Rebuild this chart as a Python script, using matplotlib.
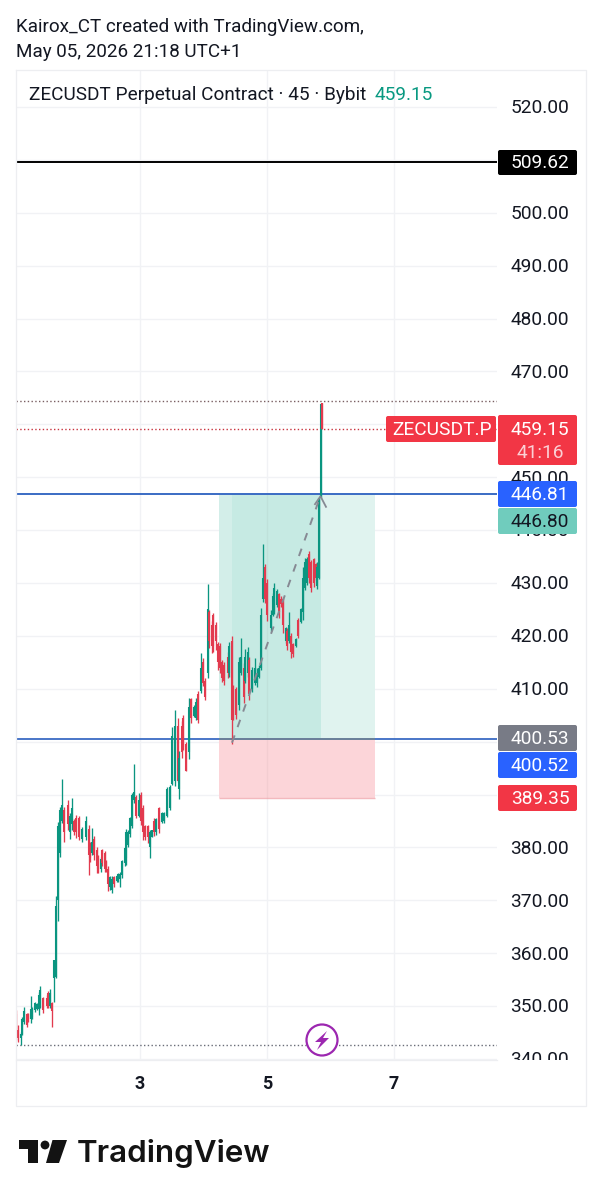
import matplotlib
matplotlib.use("Agg")
import matplotlib.pyplot as plt
from matplotlib.patches import FancyBboxPatch, Circle, Polygon
from matplotlib.transforms import blended_transform_factory, offset_copy

plt.rcParams['font.family'] = ['Roboto', 'DejaVu Sans']

bars = [0,1,2.3,3,4.2,5.3,6.2,7.3,8,9.3,
        10.3,11.3,12,13.7,15.3,16.2,17.2,18,19.2,19.8,
        21,22,23.2,24,25.8,27,28,29.2,30.2,31.5,
        33,35,36.3,37,38,38.8,40.3,41,42.5,43,
        44.3,45,46.2,47,48,49,50.3,51,52.2,53,
        54.3,55,55.8,57,58,58.8,60,61.3,62.3,63.5,
        64.5,65.8,67,67.8,69,70,71.5,73,74,75.3,
        77,77.8,79.5,80.8,81.5,83.2,83.7,85,86.6,87.6,
        89,89.8,91.2,92.5,93.3,94.6,95.8,96.6,98.2,98.6,
        99.8,100.8,102,102.8,104.2,105.8,106.6,107.8,108.5,110,
        111.6,112.5,113.8,114.5,115.8,116.5,117.8,119.6,120.3,121.3,
        122.5,123.6,124.6,125.5,127.3,128.3,129.2,130.5,131.3,132.5,
        133.3,135,135.6,136.6,137.5,138.6,139.8,141.2,142.6,143.5,
        144.6,145.5,146.5,147.5,149,149.8,150.6,151.3,152.5,153]
highs = [349.2,346.4,345.1,347.9,349.8,348.7,348.7,351.9,349.8,350.8,
         350.6,352.6,353.8,351.7,352.1,352.8,353.2,350.8,358.7,370.8,
         384.8,387.6,392.9,387.6,388.9,386.5,389.3,385.3,386.1,385.9,
         383.8,385.9,384.2,381,383.6,382.1,380,378.5,378.2,379.7,
         379.3,377.6,376.5,374.6,374.6,374.6,374.8,375.1,375.3,377.6,
         380,383.5,383.3,385.7,390.3,395.7,389.9,390.3,390.4,388,
         384.2,384.2,383.3,383.3,385.5,385.5,387.6,386.7,386.7,391.4,
         391.8,402.7,405.9,404.4,398.3,403.9,405,399.9,408.2,408.2,
         406.9,408.2,409.5,416.7,415.8,412,429.8,424.8,422.9,424.4,
         422.6,418.8,418.6,415.4,415,416.9,418.8,419.9,410.7,410.3,
         416,419.6,414.8,417.6,417.9,416,414.1,415.8,413.9,414.4,
         425.2,437.3,433.6,430.7,424.8,428.1,430,428.9,428.1,427.6,
         427.2,421.6,421.4,424.5,420.5,418.6,419.6,423.3,425.2,433,
         434.7,435,436.1,434.3,434.7,433.7,433.9,446,464,464]
lows = [343.6,343.2,342.6,344.5,346.6,346,347,346.8,347.5,348.9,
        349.2,348.3,349.6,348.7,349.6,349.6,349.6,346,350.8,355.3,
        366,378.2,384.6,381,383.3,381.6,383.3,382.3,381.8,381.4,
        381,381.4,374.8,377.2,378.5,377.6,375.1,375.1,375.3,376.5,
        375.3,375.3,371.7,371.9,371.4,372.5,373.4,373.4,372.5,374.2,
        376.5,376.6,380,381.9,383.6,388.4,385.5,385.7,384.2,381.4,
        381.4,380.8,378,381.9,382.1,382.3,382.7,384.6,384.6,385.7,
        387,391.8,391.6,392.3,389.1,397,398.4,394.5,396.8,403.5,
        404.6,404.1,403.5,409.2,410.5,407.8,412,417.7,416.7,416.9,
        417.3,413.5,413,411.2,410.7,412,412.2,399.6,404.1,404.3,
        406,412.6,407.3,411,412.2,407.8,409.4,410.7,410.3,412,
        413.5,426.4,426.2,422.8,421,423.8,424.2,425.4,423.4,425.4,
        420.5,418.6,417.3,418.6,415.8,416,417.9,419.6,422.5,423,
        428.7,429.7,430,428.3,429.3,430.5,428.8,430.7,446,459.2]
opens = [348.5,345.5,344,344.8,347,348.5,348.5,347.5,348,349.2,
         349.5,349.5,350,351.5,351.5,352.5,350,350.5,355.3,355.5,
         370,379,385,387,388,383,384.5,385,385.5,385.5,
         381.5,382,383.5,380.5,379,381.5,379.5,378,376,379.5,
         379,377.2,376,372.5,372,374.4,373.6,373.8,374,374.8,
         377,378,380.5,382.5,384,389,389.5,386,390,387.5,
         384,384,380,382,385,383,387.4,384.8,385,386,
         387.5,392,392.5,403,391,403,404.5,399.5,398,408,
         404.8,404.5,409,409.5,415,411.5,413,424.5,422,424,
         422,418.5,418,415,414.5,416,413,419,410,410,
         407,413,414,411.5,413,415.5,410,411,411,412.2,
         414,427,433,430,421.5,424,424.5,425.8,428,427,
         427,419,421,419,420,418.4,418,423,422.7,424.5,
         429,430,435.5,434,434.5,433.5,429.5,431,446.2,464]
closes = [345.5,344,344.8,347.5,349,346.5,347.5,349.5,349.5,350.5,
          350.3,352,353,349.2,350,350,352.5,349,358.7,369,
          384,387,388,383,384.5,386,387.5,383,383,382,
          383.5,385,378.5,378,381,378.5,376.5,376,377.8,377,
          376,376,373,374.4,374,373,374.6,375,375,377.4,
          379.8,383,383,385.5,390,390.5,386,389,385,383,
          382,382,383,383.2,383,385.3,383.5,386.5,386.5,391,
          391.5,401,403,392.5,397,398,399,394.5,406.5,404.5,
          406.5,407.5,404,414,411,408.5,425,419,418,418,
          419,415,414,412,411.5,413,418,404,405,405,
          415,416,408.5,416,417,409,413.5,414,413,414,
          424,431,427,424,424,427.5,429,428.5,424.5,426,
          422,421.4,418,422,417,416.5,419.4,420,425,431,
          434,434.5,431,429,430,431,433,446,463.8,459.15]

price_ticks = [340,350,360,370,380,390,400,410,420,430,440,450,460,470,480,490,500,510,520]
label_ticks = [340,350,360,370,380,410,420,430,440,450,470,480,490,500,520]
day_ticks = [3,5,7]
hline_black = 509.62
target = 446.81
entry = 400.53
stop = 389.35
last_price = 459.15
top_dotted = 464.4
low_dotted = 342.7

GREEN = '#0A9580'
RED = '#E23A4E'
GRID = '#F1F2F5'
W, H = 601, 1200
fig = plt.figure(figsize=(W/100, H/100), dpi=100, facecolor='white')

def rect(x0, y0, x1, y1):
    return [x0/W, 1-y1/H, (x1-x0)/W, (y1-y0)/H]

ax = fig.add_axes(rect(16, 70, 497, 1060))
ax2 = fig.add_axes(rect(497, 70, 586, 1060))
ylim = (339.8, 527.0)
xlim = (1.047, 8.622)
ax.set_xlim(xlim); ax.set_ylim(ylim); ax2.set_ylim(ylim); ax2.set_xlim(0, 1)
for a in (ax, ax2):
    for s in a.spines.values():
        s.set_visible(False)
    a.set_xticks([]); a.set_yticks([])
    a.patch.set_alpha(0)

ax.hlines(price_ticks, *xlim, color=GRID, lw=1, zorder=0)
ax.vlines(day_ticks, *ylim, color=GRID, lw=1, zorder=0)

def d(x_px):
    return xlim[0] + (x_px-16)/63.5

DOT = (0, (1, 1.7))
# position tool
ax.fill_between([d(219), d(375)], entry, target, color='#E0F3EF', lw=0, zorder=1)
ax.fill_between([d(232), d(321)], entry, target, color='#C6EAE3', lw=0, zorder=1.1)
ax.fill_between([d(219), d(232)], entry, target, color='#D3EEE9', lw=0, zorder=1.1)
ax.fill_between([d(219), d(375)], stop, entry, color='#FCD5D9', lw=0, zorder=1)
ax.hlines(stop, d(219), d(375), color='#F3B9BE', lw=1, zorder=1.2)
ax.vlines(day_ticks[1], stop, target, color='black', alpha=0.035, lw=1, zorder=1.3)

# lines
ax.hlines(hline_black, *xlim, color='black', lw=1.4, zorder=3)
ax.hlines(target, *xlim, color='#3A6BC4', lw=1.4, zorder=3)
ax.hlines(entry, *xlim, color='#3A6BC4', lw=1.3, zorder=3)
ax.hlines(entry, d(219), d(375), color='#6F8296', lw=1.3, zorder=3.1)
ax.hlines(top_dotted, *xlim, color='#7A5F62', lw=1.0, linestyles=DOT, zorder=3)
ax.hlines(last_price, *xlim, color='#C8323F', lw=1.0, linestyles=DOT, zorder=3)
ax.hlines(low_dotted, *xlim, color='#6A6D78', lw=1.0, linestyles=DOT, zorder=3)

# candles
days = [xlim[0] + b*2/63.5 for b in bars]
for x, o, h, l, c in zip(days, opens, highs, lows, closes):
    col = GREEN if c >= o else RED
    ax.vlines(x, l, h, color=col, lw=0.95, zorder=4)
    ax.vlines(x, min(o, c), max(o, c), color=col, lw=1.5, zorder=4)

# trend arrow
ax.plot([d(232), d(320)], [399.8, 446.2], color='#868993', lw=1.4, ls=(0, (4, 4.5)), zorder=5)
ax.plot([d(315), d(320.5), d(326)], [444.9, 446.4, 444.4], color='#868993', lw=1.3, zorder=5)

# price scale labels
txt_tr = offset_copy(ax2.transData, fig=fig, y=-1.0, units='points')
for p in label_ticks:
    ax2.text(0.48, p, f"{p:.2f}", ha='center', va='center', fontsize=13.8, color='#131722',
             clip_on=True, zorder=2, transform=txt_tr)

# overlay in pixel space
ov = fig.add_axes([0, 0, 1, 1], zorder=10)
ov.set_xlim(0, W); ov.set_ylim(H, 0); ov.axis('off'); ov.patch.set_alpha(0)

def tag(y0, y1, color, label, tcolor='white', x0=498, x1=577, cx=540):
    ov.add_patch(FancyBboxPatch((x0+2, y0+2), x1-x0-4, y1-y0-4, boxstyle='round,pad=2,rounding_size=2',
                                fc=color, ec='none', zorder=2))
    if label:
        ov.text(cx, (y0+y1)/2+1, label, color=tcolor, ha='center', va='center', fontsize=13.8, zorder=3)

tag(150, 175, '#000000', '509.62')
tag(415, 465, '#F23645', '')
ov.text(540, 430, '459.15', color='white', ha='center', va='center', fontsize=13.8, zorder=3)
ov.text(540, 453, '41:16', color='#FBD0D5', ha='center', va='center', fontsize=13.8, zorder=3)
tag(416, 442, '#F23645', 'ZECUSDT.P', x0=386, x1=496, cx=442)
tag(481, 507, '#2962FF', '446.81')
tag(508, 534, '#70CCBD', '446.80', tcolor='#131722')
tag(725, 751, '#787B86', '400.53')
tag(752, 778, '#2962FF', '400.52')
tag(785, 811, '#F23645', '389.35')

# frame
FR = '#EDEEF1'
ov.plot([15.5, 585.5, 585.5, 15.5, 15.5], [70, 70, 1105.5, 1105.5, 70], color=FR, lw=0.9)
ov.plot([16, 497], [1060, 1060], color=FR, lw=0.9)

# header
ov.text(16, 27, 'Kairox_CT created with TradingView.com,', fontsize=13.55, color='#131722', va='center')
ov.text(16, 52, 'May 05, 2026 21:18 UTC+1', fontsize=13.55, color='#131722', va='center')
ov.text(29, 95, 'ZECUSDT Perpetual Contract · 45 · Bybit', fontsize=13.7, color='#131722', va='center')
ov.text(375, 95, '459.15', fontsize=13.7, color='#089981', va='center')

# day labels
trans = blended_transform_factory(ax.transData, ov.transData)
for t in day_ticks:
    ov.text(t, 1084, str(t), transform=trans, ha='center', va='center', fontsize=13, fontweight='bold', color='#131722')

# purple icon
ov.add_patch(Circle((322, 1040), 15.5, fc='white', ec='#9C27B0', lw=1.6, zorder=4))
ov.add_patch(Polygon([(327, 1031), (315, 1042), (321, 1042), (317, 1050), (329, 1038), (323, 1038)],
                     closed=True, fc='#9C27B0', ec='none', zorder=5))

# logo
LOGO = '#131313'
ov.add_patch(Polygon([(19, 1140), (38, 1140), (38, 1163), (28, 1163), (28, 1148.5), (19, 1148.5)], closed=True, fc=LOGO, ec='none'))
ov.add_patch(Circle((45, 1145), 4.4, fc=LOGO, ec='none'))
ov.add_patch(Polygon([(52.5, 1140), (67, 1140), (59, 1163), (46, 1163)], closed=True, fc=LOGO, ec='none'))
ov.text(77, 1153, 'TradingView', fontsize=22.6, fontfamily='Inter', fontweight='semibold', color=LOGO, va='center')

fig.savefig('out.png', dpi=100)
